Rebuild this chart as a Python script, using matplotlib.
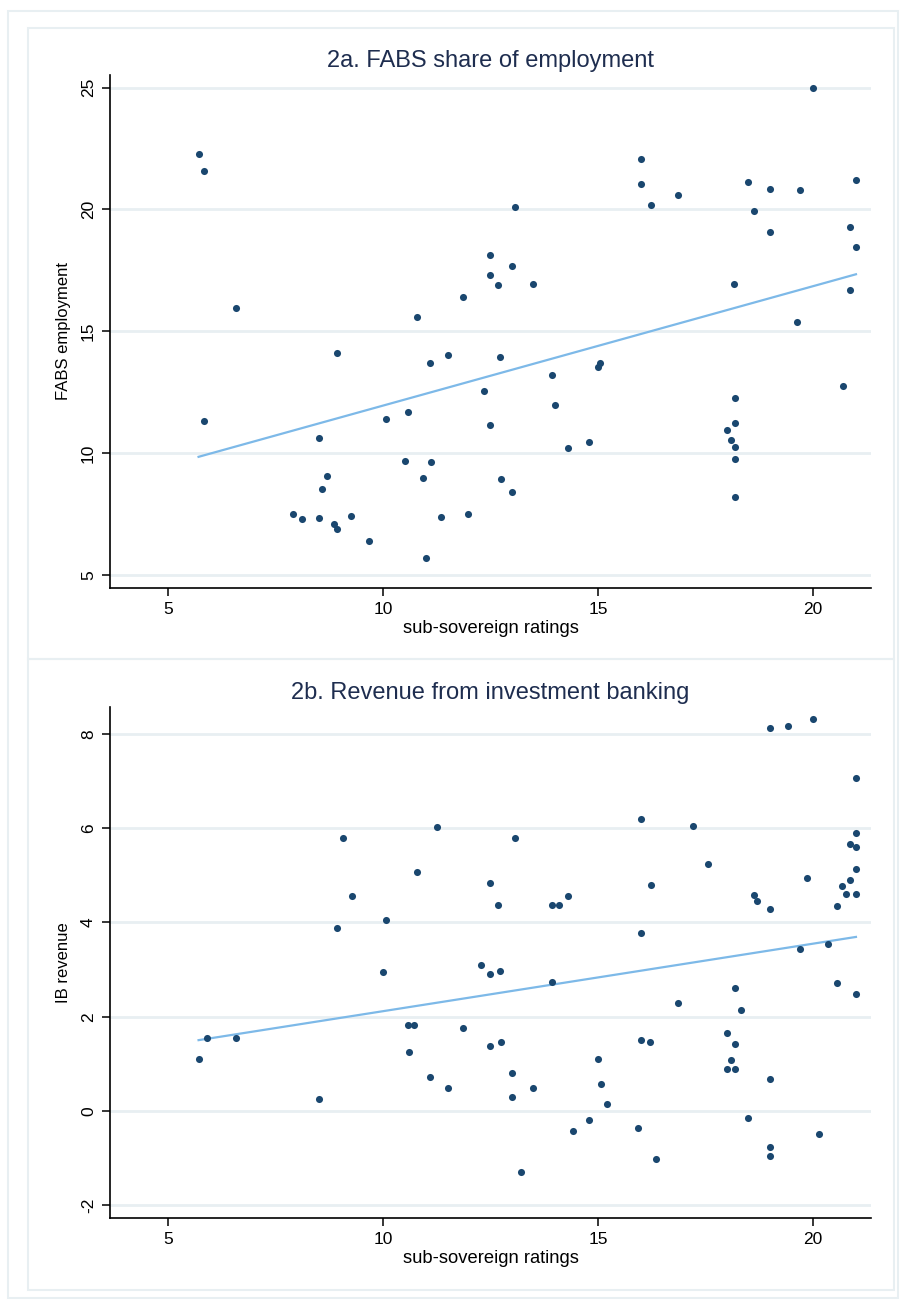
import numpy as np
import matplotlib
matplotlib.use("Agg")
import matplotlib.pyplot as plt
from matplotlib.patches import Rectangle

plt.rcParams['font.family'] = ['Liberation Sans', 'DejaVu Sans']

# Panel 2a: FABS share of employment vs sub-sovereign rating
emp_rating = [5.71, 5.83, 6.57, 8.93, 10.78, 11.5, 11.85, 20.0, 16.0, 16.0,
              16.23, 16.86, 13.07, 12.5, 12.5, 12.67, 13.0, 13.5, 18.5, 19.0,
              19.71, 21.0, 18.64, 19.0, 20.86, 21.0, 18.17, 20.86, 19.64, 12.71,
              11.1, 5.84, 8.5, 10.07, 10.57, 10.5, 11.12, 10.92, 8.7, 8.57,
              7.91, 8.12, 8.5, 8.85, 8.92, 9.25, 9.67, 10.99, 11.35, 11.98,
              13.93, 14.99, 15.05, 12.35, 14.0, 12.5, 14.3, 14.78, 12.74, 13.0,
              18.18, 18.18, 17.99, 18.09, 18.18, 18.18, 18.18, 20.71]
emp_share = [22.27, 21.59, 15.96, 14.1, 15.6, 14.01, 16.41, 25.0, 22.06, 21.06,
             20.19, 20.59, 20.11, 18.12, 17.33, 16.89, 17.68, 16.94, 21.11, 20.82,
             20.78, 21.22, 19.92, 19.08, 19.29, 18.47, 16.96, 16.69, 15.37, 13.94,
             13.71, 11.31, 10.63, 11.4, 11.7, 9.67, 9.63, 8.96, 9.07, 8.51,
             7.49, 7.30, 7.34, 7.08, 6.87, 7.41, 6.41, 5.71, 7.37, 7.49,
             13.2, 13.53, 13.7, 12.55, 11.97, 11.14, 10.22, 10.47, 8.93, 8.4,
             12.27, 11.23, 10.96, 10.52, 10.25, 9.77, 8.19, 12.75]

# Panel 2b: revenue from investment banking vs sub-sovereign rating
ib_rating = [9.06, 9.28, 8.92, 10.07, 10.78, 11.25,
             19.0, 19.43, 20.0, 21.0, 15.99, 17.22, 13.07, 21.0, 20.86, 21.0,
             17.57, 21.0, 19.85, 20.86, 20.67, 20.78, 21.0, 20.57, 12.5, 12.67,
             13.93, 14.09, 14.3, 16.23, 18.64, 18.71, 19.0, 15.99, 19.71, 20.36,
             10.0, 5.91, 6.57, 5.71, 8.5, 10.57, 10.71, 10.6, 11.1, 11.5, 11.85,
             12.28, 12.5, 12.71, 13.93, 16.86, 18.18, 18.33, 20.57, 21.0, 12.5,
             12.74, 12.99, 12.99, 13.5, 15.0, 15.07, 15.22, 15.99, 16.21, 17.99,
             18.18, 18.09, 17.99, 18.18, 19.0, 14.43, 14.79, 15.92, 13.21, 16.36,
             18.5, 19.0, 19.0, 20.13]
ib_revenue = [5.79, 4.56, 3.89, 4.06, 5.08, 6.03,
              8.13, 8.16, 8.31, 7.07, 6.2, 6.05, 5.79, 5.9, 5.67, 5.61,
              5.25, 5.14, 4.95, 4.89, 4.78, 4.61, 4.61, 4.34, 4.84, 4.38,
              4.38, 4.38, 4.56, 4.79, 4.59, 4.46, 4.29, 3.78, 3.44, 3.55,
              2.94, 1.54, 1.54, 1.1, 0.25, 1.83, 1.83, 1.26, 0.73, 0.48, 1.76,
              3.10, 2.91, 2.98, 2.73, 2.29, 2.6, 2.15, 2.71, 2.49, 1.37,
              1.47, 0.81, 0.30, 0.49, 1.10, 0.58, 0.14, 1.5, 1.47, 1.65,
              1.43, 1.09, 0.89, 0.89, 0.68, -0.43, -0.19, -0.37, -1.30, -1.02,
              -0.15, -0.76, -0.95, -0.48]

W, H = 901, 1302
fig = plt.figure(figsize=(W / 100, H / 100), dpi=100)

frame_col = "#e8eff2"
navy = "#1a476f"
fit_col = "#7db9e8"
title_col = "#1e2d4f"


def px_rect(x0, y0, x1, y1):
    # pixel box -> figure fraction [left, bottom, width, height]
    return [x0 / W, 1 - y1 / H, (x1 - x0) / W, (y1 - y0) / H]


# outer frame and panel boxes
for (x0, y0, x1, y1) in [(8, 11, 898, 1298), (28, 28, 894, 659), (28, 659, 894, 1290)]:
    l, b, w, h = px_rect(x0, y0, x1, y1)
    fig.patches.append(Rectangle((l, b), w, h, transform=fig.transFigure,
                                 fill=False, edgecolor=frame_col, lw=1.5))

panels = [
    dict(box=(110, 75, 871, 588), x=emp_rating, y=emp_share,
         title="2a. FABS share of employment", ylabel="FABS employment",
         ylim=(4.46, 25.52), yticks=[5, 10, 15, 20, 25]),
    dict(box=(110, 707, 871, 1218), x=ib_rating, y=ib_revenue,
         title="2b. Revenue from investment banking", ylabel="IB revenue",
         ylim=(-2.27, 8.57), yticks=[-2, 0, 2, 4, 6, 8]),
]

for p in panels:
    ax = fig.add_axes(px_rect(*p["box"]))
    x = np.array(p["x"])
    y = np.array(p["y"])
    ax.scatter(x, y, s=26, color=navy, zorder=3, linewidths=0)
    slope, intercept = np.polyfit(x, y, 1)
    xs = np.array([x.min(), x.max()])
    ax.plot(xs, intercept + slope * xs, color=fit_col, lw=1.6, zorder=2)

    ax.set_xlim(3.65, 21.35)
    ax.set_ylim(*p["ylim"])
    ax.set_xticks([5, 10, 15, 20])
    ax.set_yticks(p["yticks"])
    ax.set_yticklabels([str(t) for t in p["yticks"]], rotation=90, va="center")
    ax.grid(axis="y", color=frame_col, lw=2)
    ax.set_axisbelow(True)
    for s in ["top", "right"]:
        ax.spines[s].set_visible(False)
    for s in ["left", "bottom"]:
        ax.spines[s].set_linewidth(1.2)
    ax.tick_params(direction="out", length=6, width=1.1, labelsize=12.5, pad=4)
    ax.set_xlabel("sub-sovereign ratings", fontsize=13.2, labelpad=2)
    ax.set_ylabel(p["ylabel"], fontsize=12, labelpad=7)
    ax.set_title(p["title"], fontsize=17, color=title_col, pad=6)

fig.savefig("out.png", dpi=100)
